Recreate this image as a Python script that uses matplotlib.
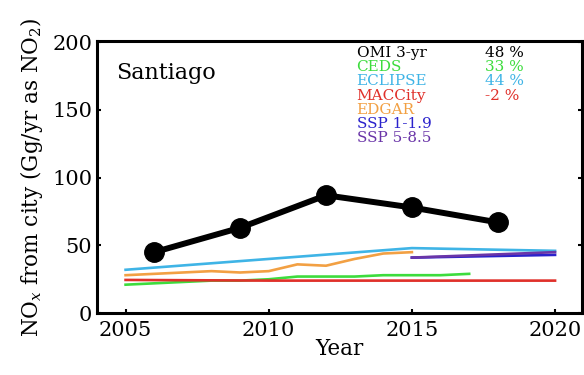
import matplotlib
matplotlib.use("Agg")
from matplotlib import pyplot as plt

plt.rcParams["font.family"] = "DejaVu Serif"
plt.rcParams["mathtext.fontset"] = "dejavuserif"

# OMI 3-yr city estimate
omi_years = [2006, 2009, 2012, 2015, 2018]
omi_vals = [45, 63, 87, 78, 67]

# inventories
ceds_years = list(range(2005, 2018))
ceds_vals = [21, 22, 23, 24, 24, 25, 27, 27, 27, 28, 28, 28, 29]

eclipse_years = [2005, 2010, 2015, 2020]
eclipse_vals = [32, 40, 48, 46]

macc_years = [2005, 2010, 2015, 2020]
macc_vals = [24.5, 24, 24, 24]

edgar_years = list(range(2005, 2016))
edgar_vals = [28, 29, 30, 31, 30, 31, 36, 35, 40, 44, 45]

ssp_years = [2015, 2020]
ssp119_vals = [41, 43]
ssp585_vals = [41, 45]

series = [
    ("CEDS", ceds_years, ceds_vals, "#3ddc3d", "33 %"),
    ("ECLIPSE", eclipse_years, eclipse_vals, "#3fb4e6", "44 %"),
    ("MACCity", macc_years, macc_vals, "#e0302a", "-2 %"),
    ("EDGAR", edgar_years, edgar_vals, "#f2a043", None),
    ("SSP 1-1.9", ssp_years, ssp119_vals, "#2a22cc", None),
    ("SSP 5-8.5", ssp_years, ssp585_vals, "#6a35a8", None),
]

fig = plt.figure(figsize=(5.84, 3.75), dpi=100)
ax = fig.add_axes([0.166, 0.165, 0.831, 0.726])

for name, yrs, vals, col, pct in series:
    ax.plot(yrs, vals, color=col, lw=1.9, zorder=2)

ax.plot(omi_years, omi_vals, color="black", lw=4.3, marker="o", ms=14, zorder=3)

ax.set_xlim(2004, 2020.95)
ax.set_ylim(0, 201)
ax.set_xticks([2005, 2010, 2015, 2020])
ax.set_yticks([0, 50, 100, 150, 200])
ax.tick_params(labelsize=15, direction="in", length=3, width=1.5,
               right=True, top=False)
ax.tick_params(axis="x", pad=6)
for sp in ax.spines.values():
    sp.set_linewidth(2.2)

ax.set_xlabel("Year", fontsize=15.5, labelpad=-2)
ax.set_ylabel(r"NO$_x$ from city (Gg/yr as NO$_2$)", fontsize=15.5, labelpad=5)

ax.text(0.04, 0.86, "Santiago", transform=ax.transAxes, fontsize=16)

# legend as coloured text
entries = [("OMI 3-yr", "black", "48 %")] + [(s[0], s[3], s[4]) for s in series]
y0 = 0.955
dy = 0.052
for i, (label, col, pct) in enumerate(entries):
    y = y0 - i * dy
    ax.text(0.535, y, label, color=col, transform=ax.transAxes,
            fontsize=11, va="center")
    if pct:
        ax.text(0.800, y, pct, color=col, transform=ax.transAxes,
                fontsize=11, va="center")

fig.savefig("out.png", dpi=100)
